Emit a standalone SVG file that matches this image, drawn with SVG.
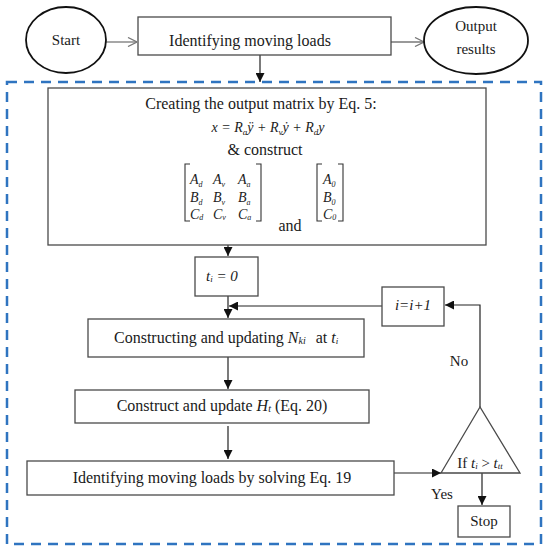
<svg xmlns="http://www.w3.org/2000/svg" width="548" height="550" viewBox="0 0 548 550">
<style>
.t{font-family:"Liberation Serif","DejaVu Serif",serif;font-size:16px;fill:#1a1a1a}
.s{font-size:15px}
.i{font-style:italic}
.m{font-family:"Liberation Serif","DejaVu Serif",serif;font-style:italic;font-size:14px;fill:#222}
.box{fill:#fff;stroke:#4a4a4a;stroke-width:1.3}
.ell{fill:#fff;stroke:#111;stroke-width:1.8}
.ln{stroke:#222;stroke-width:1.2;fill:none}
.gl{stroke:#777;stroke-width:1.3;fill:none}
.br{stroke:#333;stroke-width:1.1;fill:none}
</style>
<defs>
<marker id="ah" viewBox="0 0 10 10" refX="10" refY="5" markerWidth="9" markerHeight="9" orient="auto" markerUnits="userSpaceOnUse">
<path d="M0,0 L10,5 L0,10 z" fill="#111"/>
</marker>
<marker id="oa" viewBox="0 0 10 10" refX="10" refY="5" markerWidth="10" markerHeight="10" orient="auto" markerUnits="userSpaceOnUse">
<path d="M1,0.5 L10,5 L1,9.5" stroke="#777" stroke-width="1.3" fill="none"/>
</marker>
</defs>
<rect x="7" y="82" width="534" height="462" fill="none" stroke="#2f74c0" stroke-width="2.5" stroke-dasharray="10 7"/>
<g id="connectors">
<path class="gl" d="M106,42 H137" marker-end="url(#oa)"/>
<path class="gl" d="M391,42 H424" marker-end="url(#oa)"/>
<path class="ln" d="M260,55 V82" marker-end="url(#ah)"/>
<path class="ln" d="M228,245 V256" marker-end="url(#ah)"/>
<path class="ln" d="M228,296 V318" marker-end="url(#ah)"/>
<path class="ln" d="M382,306 H229" marker-end="url(#ah)"/>
<path class="ln" d="M228,357 V389" marker-end="url(#ah)"/>
<path class="ln" d="M228,426 V459" marker-end="url(#ah)"/>
<path class="ln" d="M394,473 H441" marker-end="url(#ah)"/>
<path class="ln" d="M482,473 V505" marker-end="url(#ah)"/>
<path class="ln" d="M480,407 V305 H445" marker-end="url(#ah)"/>
<text class="t s" x="459" y="366" text-anchor="middle">No</text>
<text class="t s" x="442" y="499" text-anchor="middle">Yes</text>
</g>
<g id="start">
<ellipse class="ell" cx="66" cy="40" rx="40" ry="33"/>
<text class="t s" x="66" y="45" text-anchor="middle">Start</text>
</g>
<g id="identify-top">
<rect class="box" x="138" y="17" width="253" height="38"/>
<text class="t" x="250" y="46" text-anchor="middle">Identifying moving loads</text>
</g>
<g id="output">
<ellipse class="ell" cx="476" cy="40.5" rx="52" ry="33.5"/>
<text class="t s" x="476" y="31" text-anchor="middle">Output</text>
<text class="t s" x="476" y="54" text-anchor="middle">results</text>
</g>
<g id="matrix-box">
<rect class="box" x="48" y="88" width="438" height="157"/>
<text class="t" x="261" y="109" text-anchor="middle" font-size="15.5">Creating the output matrix by Eq. 5:</text>
<text class="m" x="268" y="132" text-anchor="middle">x = R<tspan font-size="9" dy="3">a</tspan><tspan dy="-3">ÿ + R</tspan><tspan font-size="9" dy="3">v</tspan><tspan dy="-3">ẏ + R</tspan><tspan font-size="9" dy="3">d</tspan><tspan dy="-3">y</tspan></text>
<text class="t" x="265" y="155" text-anchor="middle">&amp; construct</text>
<path class="br" d="M190,164 H185 V221 H190 M256,164 H261 V221 H256"/>
<text class="m" x="190" y="184">A<tspan font-size="8" dy="3">d</tspan></text>
<text class="m" x="213" y="184">A<tspan font-size="8" dy="3">v</tspan></text>
<text class="m" x="238" y="184">A<tspan font-size="8" dy="3">a</tspan></text>
<text class="m" x="190" y="202">B<tspan font-size="8" dy="3">d</tspan></text>
<text class="m" x="213" y="202">B<tspan font-size="8" dy="3">v</tspan></text>
<text class="m" x="238" y="202">B<tspan font-size="8" dy="3">a</tspan></text>
<text class="m" x="190" y="219">C<tspan font-size="8" dy="1">d</tspan></text>
<text class="m" x="213" y="219">C<tspan font-size="8" dy="1">v</tspan></text>
<text class="m" x="238" y="219">C<tspan font-size="8" dy="1">a</tspan></text>
<text class="t" x="290" y="231" text-anchor="middle">and</text>
<path class="br" d="M322,164 H317 V221 H322 M338,164 H343 V221 H338"/>
<text class="m" x="323" y="184">A<tspan font-size="8" dy="3">0</tspan></text>
<text class="m" x="323" y="202">B<tspan font-size="8" dy="3">0</tspan></text>
<text class="m" x="323" y="219">C<tspan font-size="8" dy="1">0</tspan></text>
</g>
<g id="t-init">
<rect class="box" x="195" y="257" width="63" height="39"/>
<text class="t s i" x="206" y="281">t<tspan font-size="9" dy="1">i</tspan><tspan dy="-1"> = 0</tspan></text>
</g>
<g id="constructing">
<rect class="box" x="88" y="319" width="276" height="38"/>
<text class="t" x="114" y="343">Constructing and updating <tspan class="i">N</tspan><tspan class="i" font-size="10" dy="1">ki</tspan><tspan dy="-1" dx="10">at </tspan><tspan class="i">t</tspan><tspan class="i" font-size="9" dy="1">i</tspan></text>
</g>
<g id="construct">
<rect class="box" x="75" y="390" width="294" height="33"/>
<text class="t" x="222" y="411" text-anchor="middle">Construct and update <tspan class="i">H</tspan><tspan class="i" font-size="10" dy="1">t</tspan><tspan dy="-1"> (Eq. 20)</tspan></text>
</g>
<g id="identify">
<rect class="box" x="27" y="461" width="367" height="34"/>
<text class="t" x="212" y="483" text-anchor="middle" font-size="15.5">Identifying moving loads by solving Eq. 19</text>
</g>
<g id="decision">
<polygon class="box" points="480,407 441,473 520,473"/>
<text class="t s" x="480" y="468" text-anchor="middle">If <tspan class="i">t</tspan><tspan class="i" font-size="9" dy="1">i</tspan><tspan dy="-1"> &gt; </tspan><tspan class="i">t</tspan><tspan class="i" font-size="9" dy="1">tt</tspan></text>
</g>
<g id="stop">
<rect class="box" x="458" y="506" width="52" height="31"/>
<text class="t s" x="484" y="526" text-anchor="middle">Stop</text>
</g>
<g id="increment">
<rect class="box" x="382" y="287" width="62" height="39"/>
<text class="t s i" x="413" y="310" text-anchor="middle">i=i+1</text>
</g>
</svg>
